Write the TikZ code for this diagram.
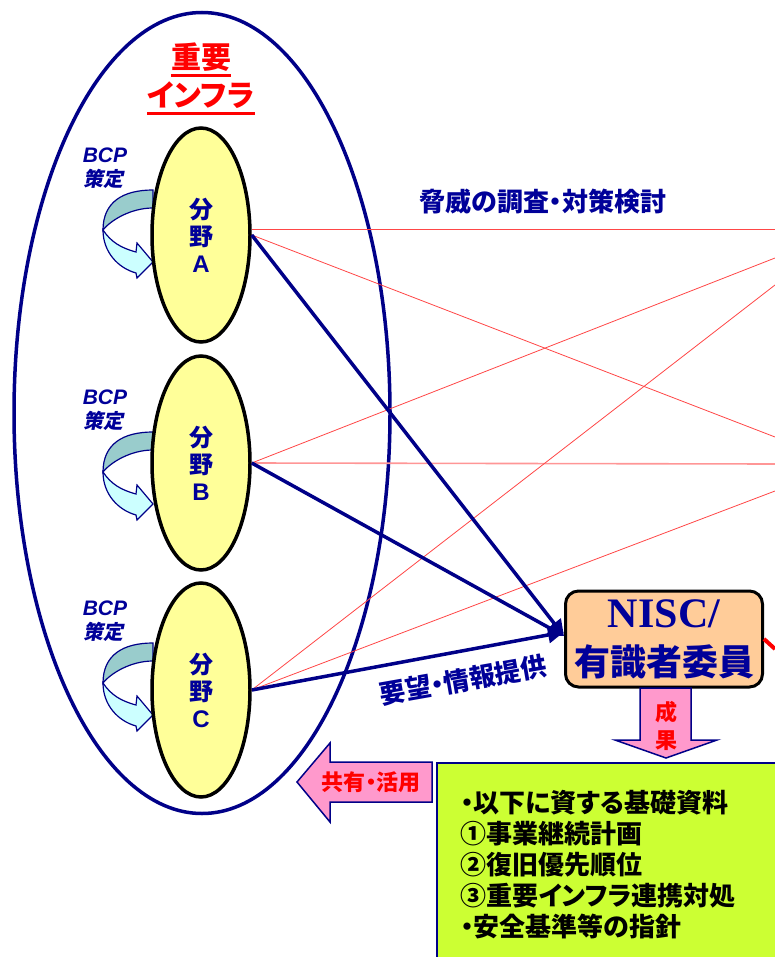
\documentclass[tikz,border=0pt]{standalone}
\usepackage{fontspec}
\setmainfont{Liberation Sans}
\newfontfamily\jp{Noto Sans CJK JP}[RawFeature=+palt]
\newfontfamily\jpslant{Noto Sans CJK JP}[RawFeature=+palt, FakeSlant=0.2]
\newfontfamily\nisclatin{Liberation Serif}
\usetikzlibrary{shapes.geometric, arrows.meta}

\definecolor{navyline}{RGB}{0,0,136}
\definecolor{navytext}{RGB}{0,0,153}
\definecolor{fieldyellow}{RGB}{255,255,153}
\definecolor{peach}{RGB}{255,204,153}
\definecolor{pinkarrow}{RGB}{255,153,204}
\definecolor{limebox}{RGB}{204,255,51}
\definecolor{tealband}{RGB}{153,204,204}
\definecolor{cyanband}{RGB}{204,255,255}
\definecolor{threadred}{RGB}{255,70,70}
\definecolor{threadpink}{RGB}{255,150,150}

\newcommand{\setfs}[2]{\fontsize{#1}{#2}\selectfont}

% U-turn ribbon arrow next to each field
\tikzset{
  pics/bcpturn/.style={code={
    \filldraw[draw=navyline, fill=tealband, line width=1.2pt]
      (0,0) .. controls (-30,0) and (-50,12) .. (-50,40)
      .. controls (-42,30) and (-22,18) .. (0,18) -- cycle;
    \filldraw[draw=navyline, fill=cyanband, line width=1.2pt, line join=miter]
      (-50,40) .. controls (-42,52) and (-32,58) .. (-17,62) -- (-16,53) -- (0,72)
      -- (-16,88) -- (-17,83) .. controls (-35,78) and (-50,62) .. (-50,40) -- cycle;
  }}
}

\begin{document}
\begin{tikzpicture}[x=1pt, y=-1pt,
    field/.style={ellipse, draw=black, line width=3.5pt, fill=fieldyellow, minimum width=98pt,
      minimum height=214pt, inner sep=0pt, align=center, text=navytext, font=\bfseries\setfs{24}{27}},
    titletext/.style={text=red, inner sep=0pt, font=\jp\bfseries\setfs{30}{30}},
    bcp/.style={text=navytext, inner sep=0pt, font=\bfseries\itshape\setfs{21}{21}},
    plan/.style={text=navytext, inner sep=0pt, font=\jpslant\bfseries\setfs{20}{20}},
    request/.style={draw=navyline, line width=3.5pt, -{Triangle[length=16pt,width=16pt]}},
    thread/.style={draw=threadred, line width=0.8pt},
    blockarrow/.style={draw=navyline, fill=pinkarrow, line width=1.5pt, line join=miter},
    bluelabel/.style={text=navytext, inner sep=0pt, font=\jp\bfseries\setfs{26}{26}},
    redlabel/.style={text=red, inner sep=0pt, font=\jp\bfseries\setfs{22}{28}, align=center},
    basisbox/.style={draw=navyline, line width=1.5pt, fill=limebox, text width=330pt, inner xsep=24pt,
      minimum height=203pt, align=left, font=\jp\bfseries\setfs{26}{31}}]
  \useasboundingbox (0,0) rectangle (775,957);
  \clip (0,0) rectangle (775,957);

  % Sector
  \node[ellipse, draw=navyline, line width=3.5pt, minimum width=376pt, minimum height=801pt] (infra) at (202,413) {};
  \node[titletext] (titleTop) at (201,57) {重要};
  \node[titletext] (titleBottom) at (201,95) {インフラ};
  \draw[red, line width=2.5pt] ([yshift=-7pt]titleTop.base west) -- ([yshift=-7pt]titleTop.base east);
  \draw[red, line width=2.5pt] ([yshift=-7pt]titleBottom.base west) -- ([yshift=-7pt]titleBottom.base east);

  % BCP
  \foreach \f/\y in {A/0, B/242, C/453} {
    \pic at (153,190+\y) {bcpturn};
    \node[bcp] (bcp\f) at (105,155+\y) {BCP};
    \node[plan] (plan\f) at (103,179+\y) {策定};
  }

  % Fields
  \node[field] (fieldA) at (201,235) {{\jp 分}\\{\jp 野}\\A};
  \node[field] (fieldB) at (201,463) {{\jp 分}\\{\jp 野}\\B};
  \node[field] (fieldC) at (201,690) {{\jp 分}\\{\jp 野}\\C};

  % NISC
  \node[draw=black, line width=3pt, fill=peach, rounded corners=13pt, minimum width=197pt, minimum height=96pt,
    inner sep=0pt, align=center, text=navytext, font=\jp\bfseries\setfs{36}{48}] (nisc) at (664,639)
    {{\nisclatin\fontsize{42}{48}\selectfont NISC/}\\有識者委員};

  % Threat lines
  \coordinate (edgeA1) at (775,229);
  \coordinate (edgeA2) at (775,437);
  \coordinate (edgeB1) at (775,464);
  \coordinate (edgeB2) at (775,258);
  \coordinate (edgeC1) at (775,285);
  \coordinate (edgeC2) at (775,491);
  \coordinate (edgeN) at (775,649);
  \draw[thread] ([yshift=6pt]fieldA.east) -- (edgeA1);
  \draw[thread] (fieldA.east) -- (edgeA2);
  \draw[thread, draw=threadpink, line width=1.6pt] (fieldB.east) -- (edgeB1);
  \draw[thread] (fieldB.east) -- (edgeB2);
  \draw[thread] (fieldC.east) -- (edgeC1);
  \draw[thread] (fieldC.east) -- (edgeC2);
  \draw[red, line width=4pt] (nisc.east) -- (edgeN);
  \node[bluelabel] (threat) at (543,202) {脅威の調査・対策検討};

  % Requests
  \draw[request] (fieldA.east) -- ([yshift=3pt]nisc.west);
  \draw[request] (fieldB.east) -- ([yshift=3pt]nisc.west);
  \draw[request] (fieldC.east) -- ([yshift=7pt]nisc.west);
  \node[bluelabel, rotate=10] (requestText) at (463,680) {要望・情報提供};

  % Results
  \node[basisbox, anchor=north west] (basis) at (436,762)
    {・以下に資する基礎資料\\①事業継続計画\\②復旧優先順位\\③重要インフラ連携対処\\・安全基準等の指針};
  \draw[blockarrow] (640,688) -- (691,688) -- (691,740) -- (717,740) -- (666,758) -- (615,740) -- (640,740) -- cycle;
  \node[redlabel] (resultText) at (666,726) {成\\果};
  \draw[blockarrow] (432,762) -- (432,802) -- (330,802) -- (330,822) -- (297,782) -- (330,743) -- (330,762) -- cycle;
  \node[redlabel] (shareText) at (371,782) {共有・活用};
\end{tikzpicture}
\end{document}
